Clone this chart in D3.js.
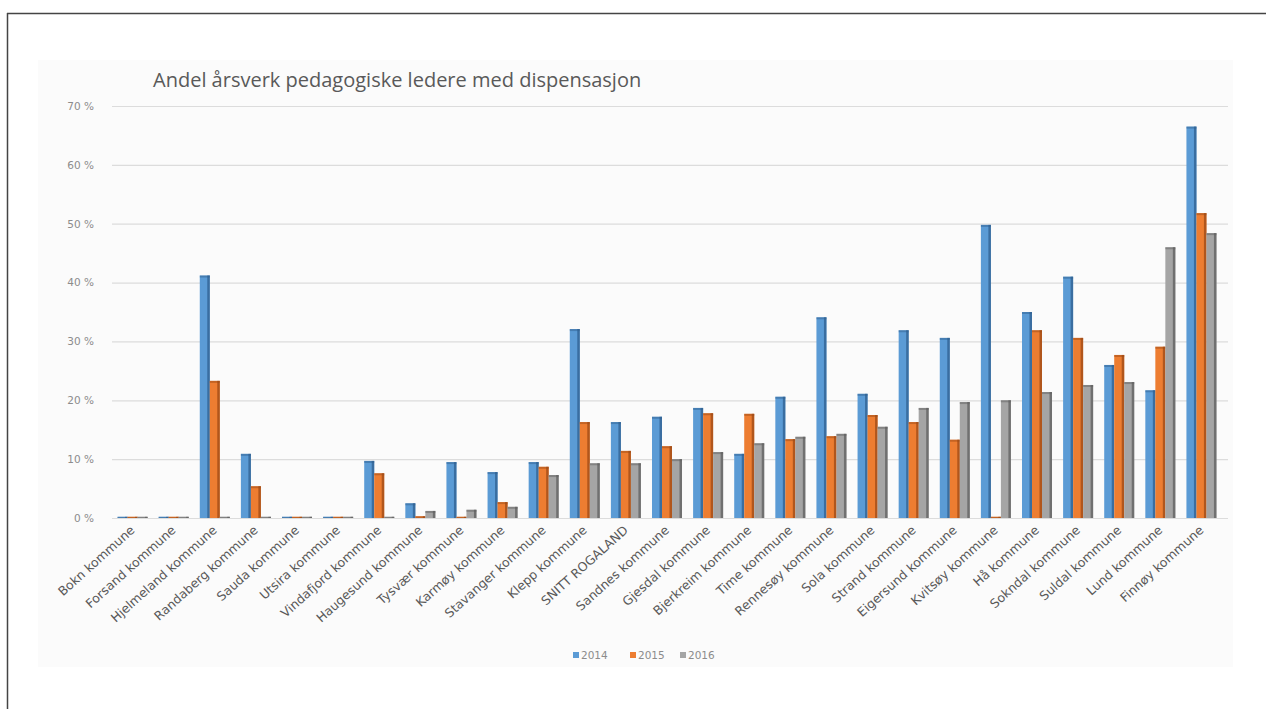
<!DOCTYPE html>
<html><head><meta charset="utf-8">
<script src="https://cdn.jsdelivr.net/npm/d3@7"></script>
<style>html,body{margin:0;padding:0;background:#fff;overflow:hidden}</style>
</head><body>
<svg id="c" width="1266" height="709"></svg>
<script>
const categories = ["Bokn kommune","Forsand kommune","Hjelmeland kommune","Randaberg kommune","Sauda kommune","Utsira kommune","Vindafjord kommune","Haugesund kommune","Tysvær kommune","Karmøy kommune","Stavanger kommune","Klepp kommune","SNITT ROGALAND","Sandnes kommune","Gjesdal kommune","Bjerkreim kommune","Time kommune","Rennesøy kommune","Sola kommune","Strand kommune","Eigersund kommune","Kvitsøy kommune","Hå kommune","Sokndal kommune","Suldal kommune","Lund kommune","Finnøy kommune"];
const years = ["2014","2015","2016"];
const v2014 = [0,0,41.2,10.9,0,0,9.7,2.5,9.5,7.8,9.5,32.1,16.3,17.2,18.7,10.9,20.6,34.1,21.1,31.9,30.6,49.8,35.0,41.0,26.0,21.7,66.5];
const v2015 = [0,0,23.3,5.4,0,0,7.6,0.3,0,2.7,8.7,16.3,11.4,12.2,17.8,17.7,13.4,13.9,17.5,16.3,13.3,0,31.9,30.6,27.7,29.1,51.8];
const v2016 = [0,0,0,0,0,0,0,1.2,1.4,1.9,7.3,9.3,9.3,10.0,11.2,12.7,13.8,14.3,15.5,18.7,19.7,20.0,21.4,22.6,23.1,46.0,48.4];
const yTicks = [0,10,20,30,40,50,60,70];
const title = "Andel årsverk pedagogiske ledere med dispensasjon";

const colors = ["#5b9bd5","#ed7d31","#a5a5a5"];
const edge = ["#2f5f8f","#9c4a15","#5f5f5f"];
const series = [v2014, v2015, v2016];

const svg = d3.select("#c");
// chart area background
svg.append("rect").attr("x",38).attr("y",60).attr("width",1195).attr("height",607).attr("fill","#fbfbfb");
// outer frame (top and left edges only visible)
svg.append("line").attr("x1",7).attr("x2",1266).attr("y1",13.5).attr("y2",13.5).attr("stroke","#444").attr("stroke-width",1.5);
svg.append("line").attr("x1",7.5).attr("x2",7.5).attr("y1",13).attr("y2",709).attr("stroke","#444").attr("stroke-width",1.5);

const x0 = d3.scaleBand().domain(categories).range([112,1222]).paddingInner(0.27).paddingOuter(0.135);
const x1 = d3.scaleBand().domain(years).range([0,x0.bandwidth()]);
const y = d3.scaleLinear().domain([0,70]).range([518,106]);

// gridlines
svg.append("g").selectAll("line").data(yTicks).join("line")
  .attr("x1",112).attr("x2",1228).attr("y1",d=>y(d)+0.5).attr("y2",d=>y(d)+0.5)
  .attr("stroke","#dcdcdc").attr("stroke-width",1.2);

// y axis labels
const yAxis = d3.axisLeft(y).tickValues(yTicks).tickSize(0).tickPadding(0).tickFormat(d=>d+" %");
const ya = svg.append("g").attr("transform","translate(94,0)").call(yAxis);
ya.select(".domain").remove();
ya.selectAll("text").attr("font-family","DejaVu Sans, sans-serif").attr("font-size",10.5).attr("fill","#8c8c8c");

// bars
const g = svg.append("g");
categories.forEach((c,i)=>{
  series.forEach((s,k)=>{
    const xx = x0(c)+x1(years[k]);
    const w = x1.bandwidth();
    const val = s[i];
    const top = y(val), h = Math.max(y(0)-top, 1.2);
    g.append("rect").attr("x",xx).attr("y",y(0)-h).attr("width",w).attr("height",h).attr("fill",colors[k]);
    g.append("rect").attr("x",xx+w-2.5).attr("y",y(0)-h).attr("width",2.5).attr("height",h).attr("fill",edge[k]).attr("opacity",0.75);
    g.append("rect").attr("x",xx).attr("y",y(0)-h).attr("width",w).attr("height",Math.min(2,h)).attr("fill",edge[k]).attr("opacity",0.5);
  });
});

// x axis labels
const xAxis = d3.axisBottom(x0).tickSize(0).tickPadding(0);
const xa = svg.append("g").attr("transform","translate(0,524)").call(xAxis);
xa.select(".domain").remove();
xa.selectAll("text")
  .attr("font-family","DejaVu Sans, sans-serif").attr("font-size",12.5).attr("fill","#595959")
  .attr("text-anchor","end").attr("dy","0.35em")
  .attr("transform","translate(0,4) rotate(-42)");

// title
svg.append("text").attr("x",153).attr("y",87).text(title)
  .attr("font-family","Open Sans, sans-serif").attr("font-size",20).attr("fill","#595959");

// legend
const lx = [573,630,680];
years.forEach((yr,k)=>{
  svg.append("rect").attr("x",lx[k]).attr("y",652).attr("width",6).attr("height",6).attr("fill",colors[k]);
  svg.append("text").attr("x",lx[k]+8).attr("y",659).text(yr)
    .attr("font-family","DejaVu Sans, sans-serif").attr("font-size",10.5).attr("fill","#8c8c8c");
});
</script>
</body></html>
